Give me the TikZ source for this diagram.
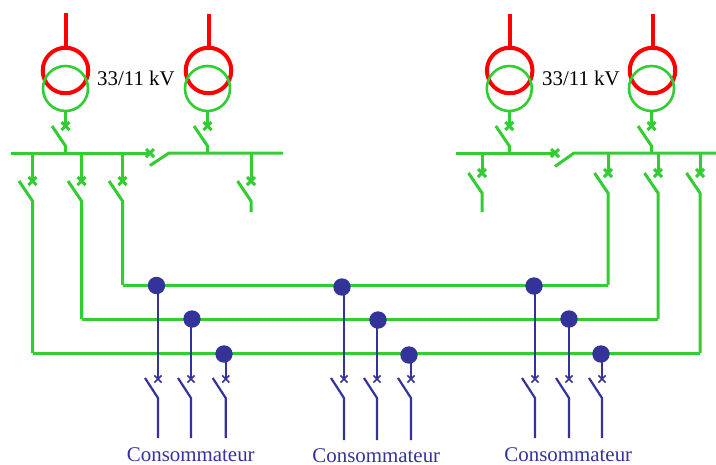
\documentclass[tikz,border=0pt]{standalone}
\usepackage{fontspec}
\setmainfont{Liberation Serif}
\usetikzlibrary{shapes.misc}
\definecolor{lineRed}{RGB}{255,0,0}
\definecolor{lineGreen}{RGB}{50,205,50}
\definecolor{lineBlue}{RGB}{51,51,153}
\tikzset{
	hv/.style={line width=4pt, lineRed},
	mv/.style={line width=3pt, lineGreen},
	lv/.style={line width=2.2pt, lineBlue},
	primary/.style={circle, draw=lineRed, line width=4pt, minimum size=45.5pt, inner sep=0pt},
	secondary/.style={circle, draw=lineGreen, line width=2.6pt, minimum size=45pt, inner sep=0pt},
	mvcross/.style={cross out, draw=lineGreen, line width=3pt, minimum size=5pt, inner sep=0pt},
	lvcross/.style={cross out, draw=lineBlue, line width=1.6pt, minimum size=5.5pt, inner sep=0pt},
	tap/.style={circle, fill=lineBlue, minimum size=17.4pt, inner sep=0pt},
	ratio/.style={font=\fontsize{20.9pt}{24pt}\selectfont, text=black, inner sep=0pt},
	load/.style={font=\fontsize{20.9pt}{24pt}\selectfont, text=lineBlue, inner sep=0pt}
}
\begin{document}
\begin{tikzpicture}[x=1pt, y=-1pt]
	\useasboundingbox (0,0) rectangle (716,464);
	% Transformers
	\foreach \n/\xa/\xb/\ytop in {a/65.5/65.5/13, b/208.5/207.5/14, c/509.7/509.3/14, d/652.5/651.5/14} {
		\coordinate (line\n) at (\xa,\ytop);
		\node [primary] (pri\n) at (\xa,70.5) {};
		\draw [hv] (line\n) -- (pri\n.north);
		\node [secondary] (sec\n) at (\xb,88.5) {};
		% Incomer switch
		\node [mvcross] (inc\n) at (\xb,126) {};
		\coordinate (incarm\n) at (\xb-13.5,126);
		\coordinate (inchinge\n) at (\xb,146);
		\coordinate (incbus\n) at (\xb,153);
		\draw [mv] (sec\n.south) -- (inc\n.center);
		\draw [mv] (incarm\n) -- (inchinge\n) -- (incbus\n);
	}
	\node [ratio] (ratioL) at (136,78) {33/11 kV};
	\node [ratio] (ratioR) at (581,78) {33/11 kV};
	% Bus bars and bus ties
	\coordinate (busLa) at (11,153);
	\coordinate (busLb) at (169,153);
	\coordinate (busLc) at (283,153);
	\coordinate (busRa) at (456,153);
	\coordinate (busRb) at (574,153);
	\coordinate (busRc) at (716,153);
	\coordinate (tieLarm) at (150,165.5);
	\coordinate (tieRarm) at (555,166.5);
	\node [mvcross] (tieL) at (150,153) {};
	\node [mvcross] (tieR) at (555,153) {};
	\draw [mv] (busLa) -- (tieL.center);
	\draw [mv] (tieLarm) -- (busLb) -- (busLc);
	\draw [mv] (busRa) -- (tieR.center);
	\draw [mv] (tieRarm) -- (busRb) -- (busRc);
	% Feeder switches
	\foreach \n/\x/\yc/\yend in {a/32.5/181/353, b/81.5/181/319, c/122.5/181/285, d/251/181/212,
			e/482/173/212, f/608/173/285, g/658/173/319, h/700/173/353} {
		\coordinate (feedtop\n) at (\x,153);
		\node [mvcross] (feed\n) at (\x,\yc) {};
		\coordinate (feedarm\n) at (\x-13.5,\yc);
		\coordinate (feedhinge\n) at (\x,\yc+20);
		\coordinate (feedend\n) at (\x,\yend);
		\draw [mv] (feedtop\n) -- (feed\n.center);
		\draw [mv] (feedarm\n) -- (feedhinge\n) -- (feedend\n);
	}
	% Ring lines
	\draw [mv] (feedendc) -- (feedendf);
	\draw [mv] (feedendb) -- (feedendg);
	\draw [mv] (feedenda) -- (feedendh);
	% Consumer taps
	\foreach \n/\xt/\yt/\x/\yend in {a/156.5/285.5/158/438, b/192/319/191/438, c/224/354/225.7/438,
			d/342/287/344/440, e/378/320/377/440, f/409/355/411/440,
			g/534/286/535/438, h/569/319/569/438, i/601/354/602/438} {
		\coordinate (droptop\n) at (\x,\yt);
		\node [lvcross] (drop\n) at (\x,379) {};
		\coordinate (droparm\n) at (\x-13,378);
		\coordinate (drophinge\n) at (\x,398);
		\coordinate (dropend\n) at (\x,\yend);
		\draw [lv] (droptop\n) -- (drop\n.center);
		\draw [lv] (droparm\n) -- (drophinge\n) -- (dropend\n);
		\node [tap] (tap\n) at (\xt,\yt) {};
	}
	% Labels
	\node [load] (loadL) at (190.8,455) {Consommateur};
	\node [load] (loadM) at (376.3,456) {Consommateur};
	\node [load] (loadR) at (568.3,455) {Consommateur};
\end{tikzpicture}
\end{document}
